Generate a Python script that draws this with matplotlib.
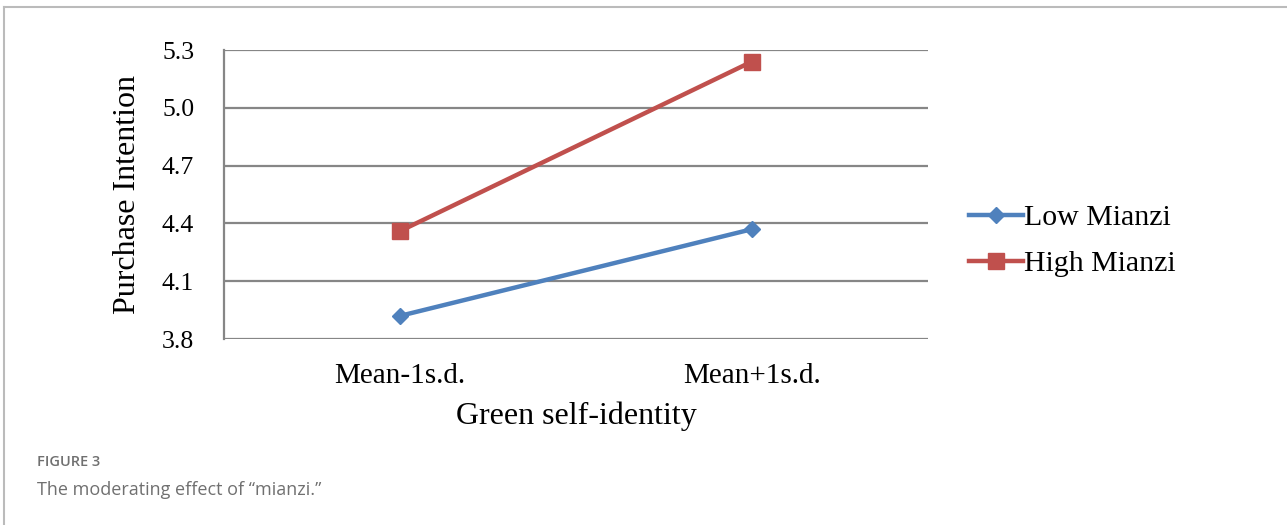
import matplotlib.pyplot as plt
from matplotlib.lines import Line2D

# data
categories = ['Mean-1s.d.', 'Mean+1s.d.']
low_mianzi = [3.92, 4.37]
high_mianzi = [4.36, 5.24]
y_ticks = [3.8, 4.1, 4.4, 4.7, 5.0, 5.3]

blue = '#4F81BD'
red = '#C0504D'
grid_c = '#868686'

plt.rcParams['font.family'] = ['Liberation Serif', 'DejaVu Serif']

fig = plt.figure(figsize=(12.87, 5.25), dpi=100)
ax = fig.add_axes([224 / 1287, 1 - 339 / 525, (928 - 224) / 1287, (339 - 50) / 525])

x = range(len(categories))
ax.plot(x, low_mianzi, '-D', color=blue, lw=3.2, markersize=8, label='Low Mianzi')
ax.plot(x, high_mianzi, '-s', color=red, lw=3.2, markersize=11, label='High Mianzi')

ax.set_xlim(-0.5, 1.5)
ax.set_ylim(3.8, 5.3)
ax.set_yticks(y_ticks)
ax.set_yticklabels([f'{v:.1f}' for v in y_ticks], fontsize=18.5)
ax.set_xticks(list(x))
ax.set_xticklabels(categories, fontsize=21)
ax.tick_params(axis='y', length=0, pad=21.5)
ax.tick_params(axis='x', length=0, pad=17)
ax.grid(axis='y', color=grid_c, lw=1.6)
ax.set_axisbelow(True)
for s in ['top', 'right', 'bottom']:
    ax.spines[s].set_visible(False)
ax.spines['left'].set_color(grid_c)
ax.spines['left'].set_linewidth(1.6)

ax.set_ylabel('Purchase Intention', fontsize=23, labelpad=14)
ax.set_xlabel('Green self-identity', fontsize=23, labelpad=9)

leg = ax.legend(loc='center left', bbox_to_anchor=(1.02, 0.34), frameon=False,
                fontsize=21.5, handlelength=1.8, handletextpad=0.05, labelspacing=0.65)

# caption
fig.text(37 / 1287, 1 - 462 / 525, 'FIGURE 3', family='Open Sans', fontsize=10.5,
         color='#707070', weight='semibold', va='center')
fig.text(37 / 1287, 1 - 490 / 525, 'The moderating effect of \u201cmianzi.\u201d',
         family='Open Sans', fontsize=13, color='#707070', va='center')

# frame lines at top and left
fig.add_artist(Line2D([4 / 1287, 1], [1 - 7 / 525, 1 - 7 / 525], color='#BBBBBB', lw=1.5))
fig.add_artist(Line2D([4 / 1287, 4 / 1287], [0, 1 - 7 / 525], color='#BBBBBB', lw=1.5))

fig.savefig('out.png', dpi=100)
